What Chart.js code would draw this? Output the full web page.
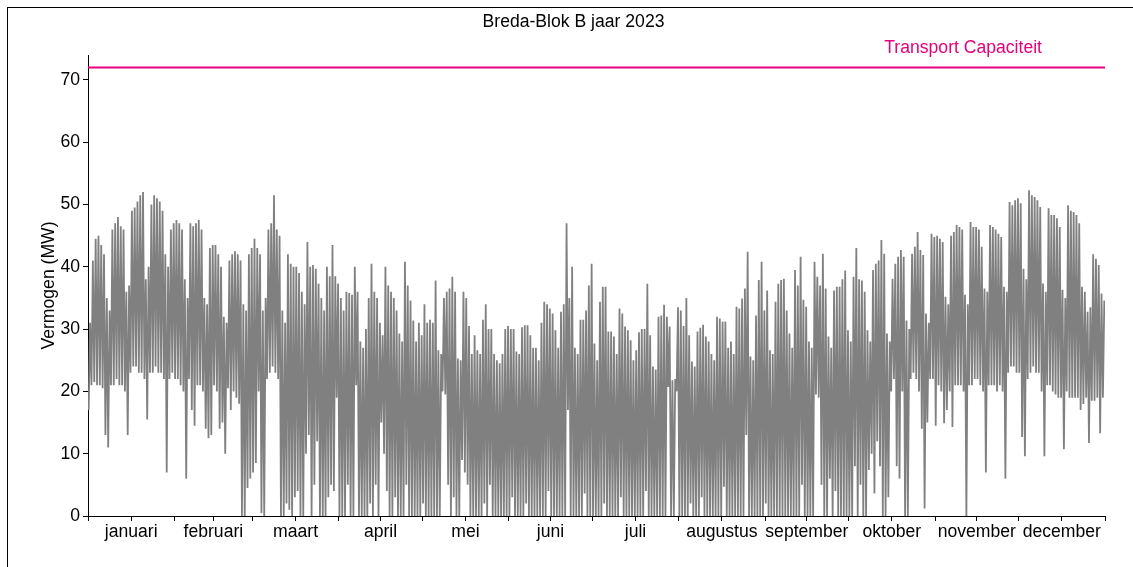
<!DOCTYPE html>
<html lang="nl">
<head>
<meta charset="utf-8"/>
<title>Breda-Blok B jaar 2023</title>
<script src="https://cdn.jsdelivr.net/npm/chart.js"></script>
<style>
    html, body { margin: 0; padding: 0; background: #fff; }
    .wrap { position: relative; width: 1133px; height: 567px; overflow: hidden; }
    .frame { position: absolute; left: 7px; top: 7px; width: 1140px; height: 580px;
             border-top: 1px solid #000; border-left: 1px solid #000; }
    canvas { position: absolute; left: 0; top: 0; }
  </style>
</head>
<body>
<div class="wrap">
<div class="frame"></div>
<canvas id="bredaChart" width="1133" height="567"></canvas>
</div>
<script>
    const titleText = 'Breda-Blok B jaar 2023';
    const capLabelText = 'Transport Capaciteit';
    const monthNames = ['januari', 'februari', 'maart', 'april', 'mei', 'juni',
                        'juli', 'augustus', 'september', 'oktober', 'november', 'december'];
    const monthDays = [31, 28, 31, 30, 31, 30, 31, 31, 30, 31, 30, 31];
    const yTicks = [0, 10, 20, 30, 40, 50, 60, 70];
    const capacity = 72;

    // dagmaximum per dag (MW), 1 jan (zo) en daarna weken ma..zo
    const dayHigh = [
      31,
      41, 44.5, 45, 43.5, 42, 35, 33,
      46, 47, 48, 46.5, 46, 36, 37,
      49, 49.5, 50.5, 51.5, 52, 38, 40,
      50, 51.5, 51, 50.5, 49, 42, 40,
      46, 47, 47.5, 47, 46, 38, 35,
      47, 46.5, 47, 47.5, 46, 35, 34,
      43, 43.5, 43.5, 42, 40, 32, 31,
      41, 42, 42.5, 42, 41, 34, 33,
      42, 43, 44.5, 43, 42, 33, 35,
      46, 47, 51.5, 46, 45, 33, 31,
      42, 40.5, 40, 40, 39, 36, 34,
      44, 40, 40.3, 39.7, 37.3, 35, 33,
      40, 38.5, 43.5, 38.5, 37.3, 35, 33,
      36, 35.8, 35.5, 40, 36, 28, 27,
      30, 35, 40.5, 36, 35, 31, 29,
      40, 37, 36, 35, 33, 29.3, 28,
      40.8, 37, 34.6, 31.4, 28, 31, 29,
      34, 31, 31.5, 31, 37.8, 26.6, 26,
      35, 36, 36.5, 38.4, 36, 25.3, 25,
      36, 35, 30.5, 26, 29, 26.6, 26,
      31.5, 34, 30, 30, 26, 25, 24.5,
      26, 30, 30.5, 30, 30, 26.4, 26,
      30.3, 30.6, 30.6, 29, 27, 27, 25,
      31, 34.4, 34, 33.3, 32.5, 29.8, 27,
      32.8, 34, 47, 35, 40, 27, 26,
      31.5, 31.5, 33, 37, 40.5, 27.7, 25,
      34.4, 36.8, 36.8, 29.6, 29.6, 28.8, 26,
      33.3, 32.5, 30.4, 29.8, 28.2, 25, 26.6,
      29.5, 30, 30, 37.3, 29, 24, 23.5,
      32, 32.2, 33.9, 32, 30.4, 21.8, 22,
      33.5, 33, 30.5, 35, 29, 24.8, 24,
      29.6, 30.2, 30.7, 28.8, 28, 26, 25,
      32, 31.7, 31.2, 31.2, 27, 28, 26,
      33.6, 33.3, 34.9, 36.5, 42.4, 25.6, 25,
      32.2, 37.9, 40.8, 33, 36.2, 26.6, 26,
      34.4, 37.3, 37.9, 38.1, 33, 29.3, 27,
      39.5, 37, 41.6, 34.7, 33.6, 28, 27,
      40.8, 38.4, 37, 42.1, 36.5, 28.8, 27,
      36.2, 36.8, 36.8, 38, 39.4, 29.8, 28,
      38.4, 43, 38, 37.8, 36, 29.8, 28,
      39.5, 40.5, 41, 44.3, 42.1, 29.3, 28,
      38.1, 40.5, 41.6, 42.7, 41.6, 31.4, 30,
      42.1, 43.2, 45.6, 42.7, 41.9, 32.5, 31,
      45.3, 44.8, 45, 44.5, 44, 35.2, 34,
      45, 45.6, 46.7, 46.4, 46, 35.5, 34,
      47.2, 46.4, 46.4, 46, 43.2, 36.5, 36,
      46.7, 46.4, 46, 45.3, 44.8, 36.8, 36,
      50.4, 49.9, 50.7, 51, 50.2, 39.7, 38,
      52.3, 51.5, 51.2, 50.7, 49.6, 37.3, 36,
      49.4, 48.3, 48.3, 47.8, 46.4, 36.3, 35,
      49.9, 49, 48.8, 48.3, 47, 36.8, 36,
      32.8, 33.5, 42, 41.3, 40.3, 35.7, 34.6
    ];

    // dagminimum per dag (MW)
    const dayLow = [
      17,
      21, 21.5, 21, 21, 20.5, 13, 11,
      21, 21, 22, 21, 21, 20, 13,
      23, 24, 24, 23, 23, 22, 15.5,
      23, 23, 24, 23, 23, 22, 7,
      22, 23, 22, 22, 21, 20, 6,
      22, 17, 14.5, 21, 21, 20, 14,
      12.5, 13, 21, 20, 14, 15, 10,
      20.5, 17, 20, 19, 18, 0, 0,
      4.5, 6, 7, 8.5, 20, 0.5, 0,
      22, 23, 24, 23, 22, 0, 0,
      2, 1, 0, 3, 4, 0, 0,
      10, 13, 0, 5, 12, 0, 0,
      0, 3, 5, 4, 19, 0, 0,
      0, 5, 0, 0, 21, 0, 0,
      0, 0, 2, 0, 5, 0, 15,
      10, 4, 0, 0, 3, 0, 0,
      0, 5, 0, 0, 0, 0, 0,
      2, 0, 0, 0, 0, 0, 0,
      20, 19.5, 5, 0, 3, 0, 0,
      9, 7, 5, 0, 0, 0, 0,
      0, 2, 0, 5, 0, 0, 0,
      0, 0, 0, 0, 3, 0, 0,
      0, 0, 2, 0, 0, 0, 0,
      0, 0, 0, 4, 0, 0, 0,
      0, 0, 0, 17, 0, 0, 0,
      0, 0, 3.6, 0, 0, 0, 0,
      0, 0, 2, 0, 0, 0, 0,
      0, 3, 0, 0, 0, 0, 0,
      0, 0, 0, 4, 0, 0, 0,
      0, 0, 0, 0, 20.7, 0, 0,
      20, 0, 0, 0, 0, 2, 0,
      0, 0, 3, 0, 0, 0, 0,
      0, 0, 0, 4.7, 0, 0, 0,
      0, 0, 0, 0, 13, 0, 0,
      0, 0, 0, 0, 2, 0, 0,
      0, 0, 0, 0, 0, 0, 0,
      0, 0, 0, 5, 0, 0, 0,
      0, 19.5, 19, 5, 0, 0, 6,
      0, 4, 0, 0, 0, 0, 0,
      0, 8, 0, 5, 0, 0, 7.4,
      10, 3.6, 12, 8, 0, 0, 3,
      20, 22, 8, 6, 20, 0, 0,
      22, 23, 22, 20, 14, 1.2, 15,
      22, 22, 14.5, 21, 20, 14.9, 17,
      20, 14.3, 21, 21, 21, 20, 0,
      21, 21, 22, 22, 21, 20, 7,
      21, 21, 21, 20, 21, 20, 6,
      23, 24, 24, 23, 23, 12.7, 9.6,
      22, 23, 24, 23, 23, 20, 9.6,
      21, 21, 20, 19.5, 19, 19, 10.7,
      20, 19, 19, 19, 19, 17, 18,
      19, 11.7, 18.5, 18.5, 19, 13.3, 19
    ];

    const GREY = '#808080';
    const MAGENTA = '#e5007d';
    const FONT = { family: "'Liberation Sans', Arial, sans-serif", size: 17.6 };

    // per dag eerst het minimum, dan het maximum
    const series = [];
    dayLow.forEach((lo, d) => {
      series.push({ x: d + 0.25, y: lo });
      series.push({ x: d + 0.75, y: dayHigh[d] });
    });

    const monthStart = [0];
    monthDays.forEach(n => monthStart.push(monthStart[monthStart.length - 1] + n));
    const monthMid = monthNames.map((m, i) => (monthStart[i] + monthStart[i + 1]) / 2);
    const xTickValues = monthStart.concat(monthMid).sort((a, b) => a - b);

    const textPlugin = {
      id: 'textPlugin',
      afterDraw(chart) {
        const { ctx, chartArea, scales } = chart;
        ctx.save();
        ctx.font = `${FONT.size}px ${FONT.family}`;
        ctx.textBaseline = 'middle';
        ctx.fillStyle = '#000';
        ctx.textAlign = 'center';
        ctx.fillText(titleText, chart.width / 2 + 7, 22);
        ctx.fillStyle = MAGENTA;
        ctx.textAlign = 'right';
        ctx.fillText(capLabelText, chartArea.right - 63, scales.y.getPixelForValue(capacity) - 19);
        ctx.restore();
      }
    };

    const ctx = document.getElementById('bredaChart').getContext('2d');
    new Chart(ctx, {
      type: 'line',
      data: {
        datasets: [
          {
            label: 'Vermogen',
            data: series,
            borderColor: GREY,
            borderWidth: 1.8,
            pointRadius: 0,
            tension: 0
          },
          {
            label: capLabelText,
            data: [{ x: 0, y: capacity }, { x: 365, y: capacity }],
            borderColor: MAGENTA,
            borderWidth: 2,
            pointRadius: 0
          }
        ]
      },
      options: {
        responsive: false,
        animation: false,
        layout: { padding: { left: 0, right: 28, top: 55, bottom: 0 } },
        plugins: {
          legend: { display: false },
          tooltip: { enabled: false }
        },
        scales: {
          x: {
            type: 'linear',
            min: 0,
            max: 365,
            afterBuildTicks: s => { s.ticks = xTickValues.map(v => ({ value: v })); },
            afterFit: s => { s.height = 51; },
            ticks: {
              autoSkip: false,
              maxRotation: 0,
              font: FONT,
              color: '#000',
              padding: 1,
              callback: v => {
                const i = monthMid.indexOf(v);
                return i >= 0 ? monthNames[i] : '';
              }
            },
            grid: { drawOnChartArea: false, drawTicks: true, tickLength: 5, color: '#000' },
            border: { display: true, color: '#000', width: 1 }
          },
          y: {
            min: 0,
            max: 74,
            afterBuildTicks: s => { s.ticks = yTicks.map(v => ({ value: v })); },
            afterFit: s => { s.width = 88; },
            ticks: { font: FONT, color: '#000', padding: 3 },
            grid: { drawOnChartArea: false, drawTicks: true, tickLength: 5, color: '#000' },
            border: { display: true, color: '#000', width: 1 },
            title: {
              display: true,
              text: 'Vermogen (MW)',
              font: FONT,
              color: '#000',
              padding: { top: 39, bottom: 0 }
            }
          }
        }
      },
      plugins: [textPlugin]
    });
  </script>
</body>
</html>
